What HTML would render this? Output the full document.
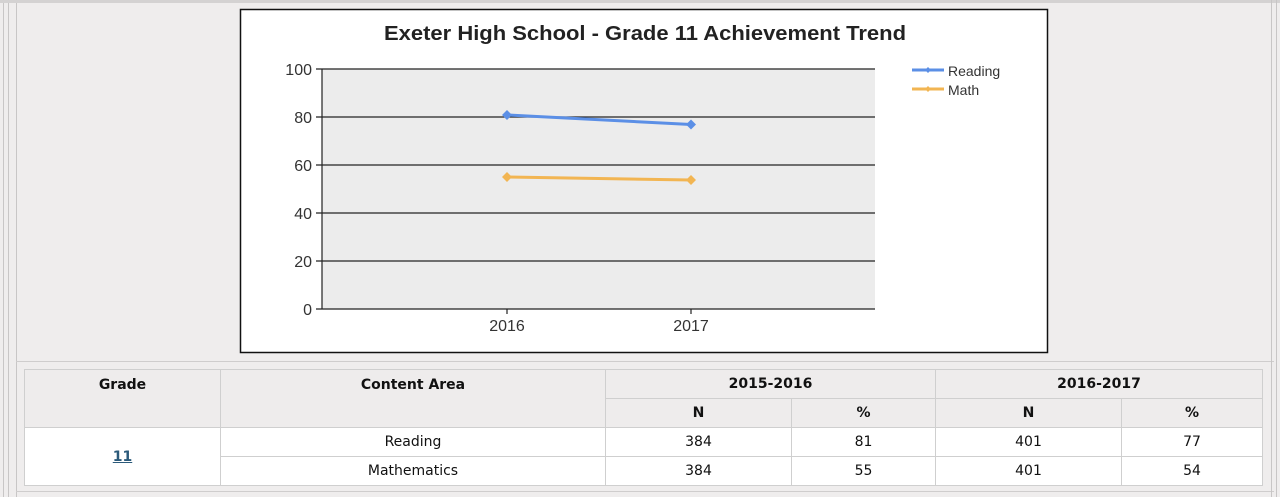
<!DOCTYPE html>
<html><head><style>
body{margin:0;width:1280px;height:497px;background:#efeded;position:relative;overflow:hidden;font-family:"Liberation Sans",sans-serif}
.vl{position:absolute;top:0;bottom:0;width:1px;background:#c8c6c6}
table{position:absolute;left:24px;top:369px;width:1239px;border-collapse:collapse;font-family:"DejaVu Sans",sans-serif;font-size:14px;color:#111}
td{border:1px solid #cfcfcf;text-align:center;padding:0;height:28px}
.h td{background:#eeecec;font-weight:bold}
.b td{background:#fff}
a{color:#2b5a7a;font-weight:bold;text-decoration:underline}
</style></head><body>
<div class="vl" style="left:3px"></div><div class="vl" style="left:8px"></div><div class="vl" style="left:16px"></div>
<div style="position:absolute;left:0;right:0;top:0;height:3px;background:#d4d2d2"></div>
<div style="position:absolute;left:16px;right:6px;top:361px;height:1px;background:#cfcdcd"></div>
<div style="position:absolute;left:16px;right:6px;top:491px;height:1px;background:#cfcdcd"></div>
<div class="vl" style="left:1271px"></div><div class="vl" style="left:1276px"></div>
<svg style="position:absolute;left:0;top:0" width="1280" height="497">
<rect x="240.5" y="9.5" width="807" height="343" fill="#fff" stroke="#111" stroke-width="1.5"/>
<text x="645" y="40" text-anchor="middle" font-family="Liberation Sans" font-weight="bold" font-size="20" fill="#222" textLength="522" lengthAdjust="spacingAndGlyphs">Exeter High School - Grade 11 Achievement Trend</text>
<rect x="322" y="69" width="553" height="240" fill="#ececec"/>
<g stroke="#222" stroke-width="1.2">
<line x1="316" y1="69" x2="875" y2="69"/><line x1="316" y1="117" x2="875" y2="117"/><line x1="316" y1="165" x2="875" y2="165"/><line x1="316" y1="213" x2="875" y2="213"/><line x1="316" y1="261" x2="875" y2="261"/><line x1="316" y1="309" x2="875" y2="309"/>
<line x1="322" y1="69" x2="322" y2="309"/><line x1="507" y1="309" x2="507" y2="314"/><line x1="691" y1="309" x2="691" y2="314"/>
</g>
<g font-family="Liberation Sans" font-size="16" fill="#333" text-anchor="end">
<text x="312" y="75">100</text><text x="312" y="123">80</text><text x="312" y="171">60</text><text x="312" y="219">40</text><text x="312" y="267">20</text><text x="312" y="315">0</text>
</g>
<g font-family="Liberation Sans" font-size="16" fill="#333" text-anchor="middle"><text x="507" y="331">2016</text><text x="691" y="331">2017</text></g>
<polyline points="507,115 691,124.5" stroke="#5b8fe6" stroke-width="3" fill="none"/>
<polyline points="507,177 691,180" stroke="#f2b552" stroke-width="3" fill="none"/>
<g fill="#5b8fe6"><path d="M507,110l5,5l-5,5l-5,-5z"/><path d="M691,119.5l5,5l-5,5l-5,-5z"/></g>
<g fill="#f2b552"><path d="M507,172l5,5l-5,5l-5,-5z"/><path d="M691,175l5,5l-5,5l-5,-5z"/></g>
<line x1="912" y1="70" x2="944" y2="70" stroke="#5b8fe6" stroke-width="3"/><path d="M928,67l3,3l-3,3l-3,-3z" fill="#5b8fe6"/>
<line x1="912" y1="89" x2="944" y2="89" stroke="#f2b552" stroke-width="3"/><path d="M928,86l3,3l-3,3l-3,-3z" fill="#f2b552"/>
<g font-family="Liberation Sans" font-size="14" fill="#333"><text x="948" y="76">Reading</text><text x="948" y="95">Math</text></g>
</svg>
<table>
<colgroup><col style="width:196px"><col style="width:385px"><col style="width:186px"><col style="width:144px"><col style="width:186px"><col></colgroup>
<tr class="h"><td rowspan="2" style="vertical-align:top;padding-top:7px">Grade</td><td rowspan="2" style="vertical-align:top;padding-top:7px">Content Area</td><td colspan="2">2015-2016</td><td colspan="2">2016-2017</td></tr>
<tr class="h"><td>N</td><td>%</td><td>N</td><td>%</td></tr>
<tr class="b"><td rowspan="2"><a>11</a></td><td>Reading</td><td>384</td><td>81</td><td>401</td><td>77</td></tr>
<tr class="b"><td>Mathematics</td><td>384</td><td>55</td><td>401</td><td>54</td></tr>
</table>
</body></html>
